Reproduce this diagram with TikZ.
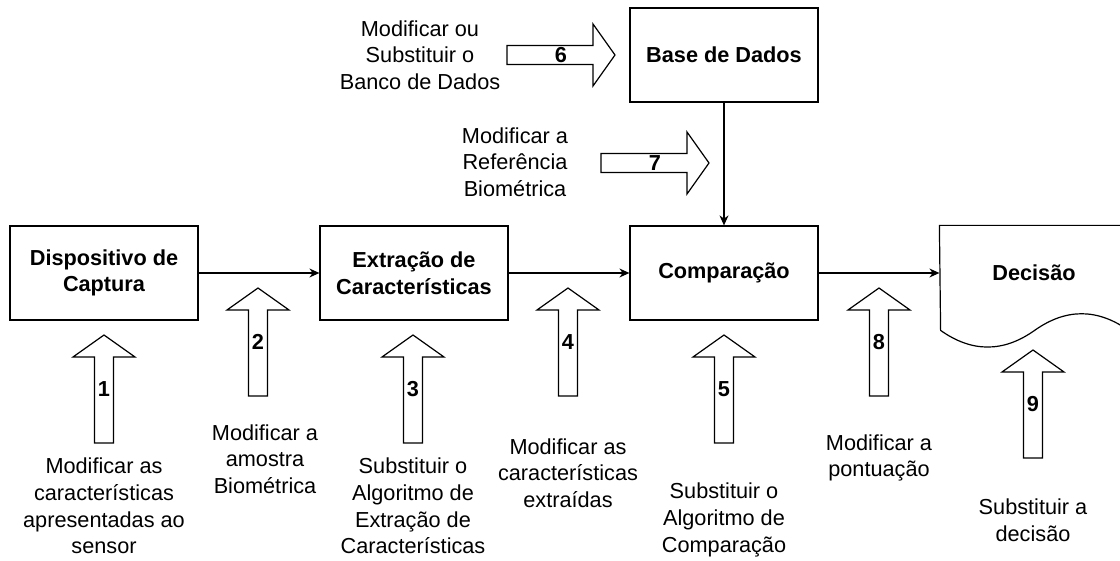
\documentclass[tikz,border=0pt]{standalone}
\usepackage{fontspec}
\setmainfont{Liberation Sans}
\usetikzlibrary{positioning,arrows.meta}

\begin{document}
\begin{tikzpicture}[x=0.5pt,y=-0.5pt,node distance=155pt,on grid,
      line width=0.6pt,>={Stealth[length=5pt,width=4.5pt]},
      font=\fontsize{10.85pt}{13.35pt}\selectfont,
      bloco/.style={draw,minimum width=94pt,minimum height=47pt,align=center,
        font=\fontsize{10.85pt}{13.35pt}\selectfont\bfseries},
      rotulo/.style={align=center},
      seta/.pic={
        \draw[fill=white] (-9.5,54) -- (-9.5,-32) -- (-31,-32) -- (0,-54)
          -- (31,-32) -- (9.5,-32) -- (9.5,54) -- cycle;
        \node[font=\fontsize{10.85pt}{13.35pt}\selectfont\bfseries,inner sep=0pt] (-n) {#1};
      }]

      \clip (0,0) rectangle (1120,561);

      % blocos do sistema
      \node[bloco] (disp) at (104,273) {Dispositivo de\\Captura};
      \node[bloco] (extr) [right of=disp] {Extração de\\Características};
      \node[bloco] (comp) [right of=extr] {Comparação};
      \node[bloco] (base) [above=109pt of comp] {Base de Dados};
      \node[bloco,draw=none] (dec) [right of=comp] {Decisão};
      % decisao (documento)
      \draw (dec.north west) -- (dec.north east) -- ++(0,105)
        .. controls +(-31.3,-22.2) and +(31.3,-22.2) .. ++(-94,0)
        .. controls +(-31.3,22.2) and +(31.3,22.2) .. ++(-94,0) -- cycle;

      \draw[->] (disp) -- (extr);
      \draw[->] (extr) -- (comp);
      \draw[->] (comp) -- (dec);
      \draw[->] (base) -- (comp);

      % pontos de ataque
      \pic (s1) at (104,389) {seta=1};
      \pic (s2) at (258,342) {seta=2};
      \pic (s3) at (413,389) {seta=3};
      \pic (s4) at (568,342) {seta=4};
      \pic (s5) at (724,389) {seta=5};
      \pic[rotate=-90] (s6) at (561,55) {seta=6};
      \pic[rotate=-90] (s7) at (655,163) {seta=7};
      \pic (s8) at (879,342) {seta=8};
      \pic (s9) at (1033,404) {seta=9};

      \node[rotulo] (t1) at (104,506) {Modificar as\\características\\apresentadas ao\\sensor};
      \node[rotulo] (t2) at (265,459) {Modificar a\\amostra\\Biométrica};
      \node[rotulo] (t3) at (413,506) {Substituir o\\Algoritmo de\\Extração de\\Características};
      \node[rotulo] (t4) at (568,473) {Modificar as\\características\\extraídas};
      \node[rotulo] (t5) at (724,520) {Substituir o\\Algoritmo de\\Comparação};
      \node[rotulo] (t6) at (420,55) {Modificar ou\\Substituir o\\Banco de Dados};
      \node[rotulo] (t7) at (515,162) {Modificar a\\Referência\\Biométrica};
      \node[rotulo] (t8) at (879,458) {Modificar a\\pontuação};
      \node[rotulo] (t9) at (1033,520) {Substituir a\\decisão};
\end{tikzpicture}
\end{document}
